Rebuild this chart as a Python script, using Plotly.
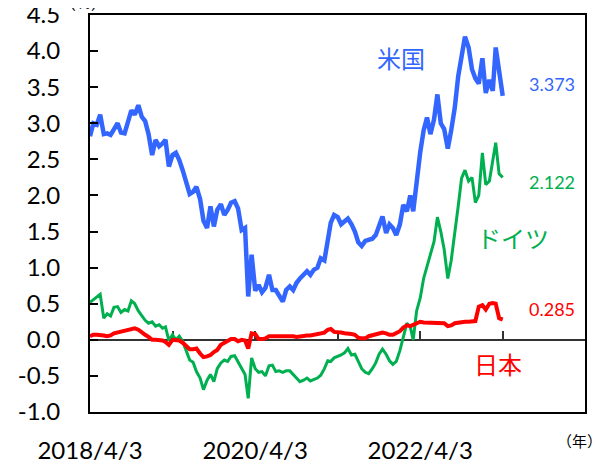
import plotly.graph_objects as go

# semi-monthly observation dates (3rd and 18th of each month), 2018/4/3 .. 2023/4/3
dates = []
for i in range(121):
    mi = 3 + i // 2
    dates.append(f"{2018 + mi // 12}-{mi % 12 + 1:02d}-{3 if i % 2 == 0 else 18:02d}")

us = [2.82, 3.00, 2.98, 3.12, 2.85, 2.86, 2.84, 2.92, 3.00, 2.87,
      2.86, 3.02, 3.18, 3.12, 3.25, 3.09, 3.03, 2.85, 2.56, 2.77,
      2.68, 2.72, 2.77, 2.40, 2.56, 2.59, 2.49, 2.35, 2.20, 2.02,
      2.05, 2.12, 1.95, 1.65, 1.55, 1.85, 1.57, 1.80, 1.88, 1.73,
      1.80, 1.90, 1.92, 1.82, 1.52, 1.55, 0.60, 1.18, 0.68, 0.76,
      0.66, 0.72, 0.90, 0.69, 0.69, 0.62, 0.53, 0.69, 0.74, 0.69,
      0.79, 0.85, 0.90, 0.95, 0.90, 0.97, 1.00, 1.13, 1.10, 1.38,
      1.62, 1.73, 1.70, 1.60, 1.65, 1.68, 1.60, 1.50, 1.35, 1.30,
      1.37, 1.39, 1.40, 1.45, 1.60, 1.71, 1.48, 1.60, 1.55, 1.45,
      1.60, 1.87, 1.78, 2.00, 1.78, 2.20, 2.60, 2.90, 3.08, 2.85,
      3.05, 3.40, 3.00, 2.92, 2.65, 2.90, 3.22, 3.65, 3.92, 4.20,
      4.05, 3.75, 3.62, 3.55, 3.90, 3.42, 3.60, 3.45, 4.05, 3.68,
      3.38]

de = [0.52, 0.56, 0.60, 0.63, 0.30, 0.36, 0.33, 0.45, 0.46, 0.38,
      0.42, 0.40, 0.54, 0.50, 0.40, 0.34, 0.27, 0.23, 0.25, 0.19,
      0.21, 0.16, 0.18, -0.01, 0.07, 0.00, 0.05, -0.02, -0.15, -0.28,
      -0.31, -0.44, -0.53, -0.69, -0.56, -0.48, -0.58, -0.40, -0.32, -0.28,
      -0.30, -0.23, -0.22, -0.30, -0.38, -0.48, -0.81, -0.25, -0.40, -0.45,
      -0.44, -0.50, -0.36, -0.35, -0.44, -0.43, -0.45, -0.43, -0.43, -0.48,
      -0.54, -0.58, -0.56, -0.53, -0.57, -0.55, -0.53, -0.49, -0.40, -0.29,
      -0.30, -0.25, -0.23, -0.21, -0.18, -0.12, -0.21, -0.20, -0.30, -0.40,
      -0.45, -0.47, -0.40, -0.32, -0.20, -0.13, -0.20, -0.29, -0.34, -0.30,
      -0.15, 0.03, 0.23, 0.18, 0.00, 0.40, 0.58, 0.85, 1.01, 1.20,
      1.36, 1.70, 1.50, 1.25, 0.85, 1.10, 1.45, 1.85, 2.24, 2.35,
      2.20, 2.25, 1.90, 2.00, 2.59, 2.15, 2.20, 2.50, 2.73, 2.30,
      2.25]

jp = [0.05, 0.07, 0.07, 0.07, 0.06, 0.05, 0.06, 0.09, 0.10, 0.11,
      0.12, 0.14, 0.15, 0.16, 0.14, 0.10, 0.07, 0.04, 0.00, 0.00,
      0.00, -0.01, -0.03, -0.07, 0.00, 0.00, -0.01, -0.04, -0.09, -0.13,
      -0.13, -0.12, -0.19, -0.24, -0.23, -0.21, -0.17, -0.14, -0.07, -0.04,
      -0.02, 0.01, 0.01, -0.02, 0.00, -0.01, -0.12, 0.09, 0.08, 0.01,
      0.01, 0.02, 0.05, 0.05, 0.05, 0.05, 0.06, 0.06, 0.06, 0.05,
      0.04, 0.05, 0.05, 0.06, 0.06, 0.07, 0.07, 0.08, 0.10, 0.14,
      0.15, 0.11, 0.11, 0.10, 0.09, 0.09, 0.08, 0.07, 0.03, 0.02,
      0.02, 0.05, 0.06, 0.08, 0.09, 0.10, 0.09, 0.07, 0.07, 0.09,
      0.12, 0.17, 0.20, 0.19, 0.21, 0.24, 0.25, 0.24, 0.24, 0.24,
      0.24, 0.24, 0.24, 0.23, 0.19, 0.20, 0.23, 0.24, 0.25, 0.25,
      0.25, 0.25, 0.26, 0.46, 0.48, 0.42, 0.50, 0.51, 0.50, 0.30,
      0.28]

y_ticks = [-1.0, -0.5, 0.0, 0.5, 1.0, 1.5, 2.0, 2.5, 3.0, 3.5, 4.0, 4.5]
y_tick_text = ["-1.0", "-0.5", "0.0", "0.5", "1.0", "1.5", "2.0", "2.5", "3.0", "3.5", "4.0", "4.5"]
x_label_dates = ["2018-04-03", "2020-04-03", "2022-04-03"]
x_label_text = ["2018/4/3", "2020/4/3", "2022/4/3"]
x_minor_dates = ["2018-04-03", "2019-04-03", "2020-04-03", "2021-04-03", "2022-04-03", "2023-04-03"]
last_values = ["3.373", "2.122", "0.285"]

BLUE = "#3366FF"
GREEN = "#00B050"
RED = "#FF0000"
JP_FONT = "Noto Sans CJK JP"
NUM_FONT = "Lato"

fig = go.Figure()
# each overlaid axis pair carries one of the series so that every axis gets drawn
fig.add_trace(go.Scatter(x=dates, y=us, mode="lines", line=dict(color=BLUE, width=4.5),
                         name="米国", xaxis="x", yaxis="y2"))
fig.add_trace(go.Scatter(x=dates, y=jp, mode="lines", line=dict(color=RED, width=4),
                         name="日本", xaxis="x2", yaxis="y"))
fig.add_trace(go.Scatter(x=dates, y=de, mode="lines", line=dict(color=GREEN, width=3),
                         name="ドイツ", xaxis="x", yaxis="y"))

x_range = ["2018-04-03", "2024-04-01"]
y_range = [-1.0, 4.5]
zero_frac = (0 - y_range[0]) / (y_range[1] - y_range[0])

# page body has an 8px margin, so the figure is 8px smaller than the window
fig.update_layout(
    template="none",
    width=597, height=454,
    margin=dict(l=82, r=20, t=7, b=50, pad=0),
    paper_bgcolor="white", plot_bgcolor="white",
    showlegend=False,
    font=dict(family=NUM_FONT, color="black"),
    xaxis=dict(
        type="date", range=x_range, automargin=False,
        tickvals=x_label_dates, ticktext=x_label_text,
        ticks="", showgrid=False, zeroline=False,
        showline=True, mirror=True, linecolor="black", linewidth=1.5,
        tickfont=dict(size=24, family=NUM_FONT, color="black"),
        ticklabelstandoff=16, ticklabeloverflow="allow",
    ),
    xaxis2=dict(
        type="date", range=x_range, overlaying="x", anchor="free", position=zero_frac,
        automargin=False,
        tickvals=x_minor_dates, ticks="inside", ticklen=8, tickwidth=1.5, tickcolor="#333",
        showticklabels=False, showgrid=False, zeroline=False,
        showline=True, linecolor="#333", linewidth=1.5, layer="below traces",
    ),
    yaxis=dict(
        range=y_range, tickvals=y_ticks, automargin=False,
        ticks="inside", ticklen=8, tickwidth=1.5, tickcolor="black",
        showticklabels=False, showgrid=False, zeroline=False,
        showline=True, mirror=True, linecolor="black", linewidth=1.5,
    ),
    yaxis2=dict(
        range=y_range, overlaying="y", side="left", anchor="x", automargin=False,
        tickvals=y_ticks, ticktext=y_tick_text,
        ticks="outside", ticklen=24, tickcolor="rgba(0,0,0,0)",
        showgrid=False, zeroline=False, showline=False,
        tickfont=dict(size=24, family=NUM_FONT, color="black"),
        ticklabeloverflow="allow",
    ),
)

ann = [
    dict(text="米国", x=0.628, y=0.893, color=BLUE, size=24, font=JP_FONT, anchor="center"),
    dict(text=last_values[0], x=0.933, y=0.825, color=BLUE, size=18, font=NUM_FONT, anchor="center"),
    dict(text=last_values[1], x=0.933, y=0.579, color=GREEN, size=18, font=NUM_FONT, anchor="center"),
    dict(text="ドイツ", x=0.854, y=0.440, color=GREEN, size=24, font=JP_FONT, anchor="center"),
    dict(text=last_values[2], x=0.933, y=0.259, color=RED, size=18, font=NUM_FONT, anchor="center"),
    dict(text="日本", x=0.824, y=0.123, color=RED, size=24, font=JP_FONT, anchor="center"),
    dict(text="（年）", x=1.038, y=-0.072, color="black", size=15, font=JP_FONT, anchor="right"),
    dict(text="（%）", x=-0.014, y=1.033, color="black", size=16, font=JP_FONT, anchor="center"),
]
for a in ann:
    fig.add_annotation(
        text=a["text"], x=a["x"], y=a["y"], xref="paper", yref="paper",
        xanchor=a["anchor"], yanchor="middle", showarrow=False,
        font=dict(size=a["size"], color=a["color"], family=a["font"]),
    )

fig.write_html("out.html")
